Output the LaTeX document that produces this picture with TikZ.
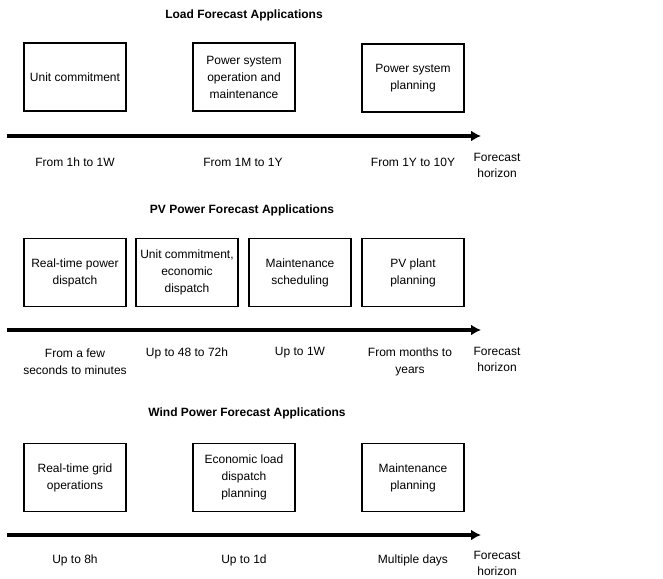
\documentclass[tikz,border=0pt]{standalone}
\usepackage{fontspec}
\setmainfont{Liberation Sans}
\usetikzlibrary{arrows.meta}

\begin{document}
\begin{tikzpicture}[x=1pt,y=-1pt,>={Latex[length=10pt,width=11pt]},
  appbox/.style={draw, line width=1.2pt, minimum width=102pt, minimum height=68pt, align=center, inner sep=1pt, font=\fontsize{12}{17}\selectfont},
  apptitle/.style={font=\bfseries\fontsize{12}{14}\selectfont},
  horizon/.style={->, line width=3.5pt},
  spanlabel/.style={align=center, inner sep=0pt, font=\fontsize{12}{17}\selectfont}]

\def\tipx{481}
\def\startx{7}

\useasboundingbox (0,0) rectangle (663,578);

% load forecast
\node[apptitle] (loadtitle) at (244,15) {Load Forecast Applications};
\node[appbox] (loaduc) at (75,77) {Unit commitment};
\node[appbox] (loadop) at (244,77) {Power system\\operation and\\maintenance};
\node[appbox] (loadplan) at (413,78) {Power system\\planning};

\coordinate (loadstart) at (\startx,136);
\coordinate (loadend) at (\tipx,136);
\draw[horizon] (loadstart) -- (loadend);

\node[spanlabel] (loadr1) at (75,162) {From 1h to 1W};
\node[spanlabel] (loadr2) at (243,162) {From 1M to 1Y};
\node[spanlabel] (loadr3) at (413,162) {From 1Y to 10Y};
\node[spanlabel,font=\fontsize{12}{16}\selectfont] (loadaxis) at (497,165) {Forecast\\horizon};

% pv power forecast
\node[apptitle] (pvtitle) at (242,210) {PV Power Forecast Applications};
\node[appbox] (pvrt) at (75,272.5) {Real-time power\\dispatch};
\node[appbox] (pvuc) at (187,272.5) {Unit commitment,\\economic\\dispatch};
\node[appbox] (pvmaint) at (300,272.5) {Maintenance\\scheduling};
\node[appbox] (pvplan) at (413,272.5) {PV plant\\planning};

\coordinate (pvstart) at (\startx,330);
\coordinate (pvend) at (\tipx,330);
\draw[horizon] (pvstart) -- (pvend);

\node[spanlabel] (pvr1) at (75,361.5) {From a few\\seconds to minutes};
\node[spanlabel] (pvr2) at (187,353) {Up to 48 to 72h};
\node[spanlabel] (pvr3) at (300,353) {Up to 1W};
\node[spanlabel] (pvr4) at (410,361.5) {From months to\\years};
\node[spanlabel,font=\fontsize{12}{16}\selectfont] (pvaxis) at (497,359.5) {Forecast\\horizon};

% wind power forecast
\node[apptitle] (windtitle) at (247,413) {Wind Power Forecast Applications};
\node[appbox] (windrt) at (75,477.5) {Real-time grid\\operations};
\node[appbox] (windeco) at (244,477.5) {Economic load\\dispatch\\planning};
\node[appbox] (windmaint) at (413,477.5) {Maintenance\\planning};

\coordinate (windstart) at (\startx,535);
\coordinate (windend) at (\tipx,535);
\draw[horizon] (windstart) -- (windend);

\node[spanlabel] (windr1) at (75,560) {Up to 8h};
\node[spanlabel] (windr2) at (244,560) {Up to 1d};
\node[spanlabel] (windr3) at (413,560) {Multiple days};
\node[spanlabel,font=\fontsize{12}{16}\selectfont] (windaxis) at (497,563.5) {Forecast\\horizon};

\end{tikzpicture}
\end{document}
